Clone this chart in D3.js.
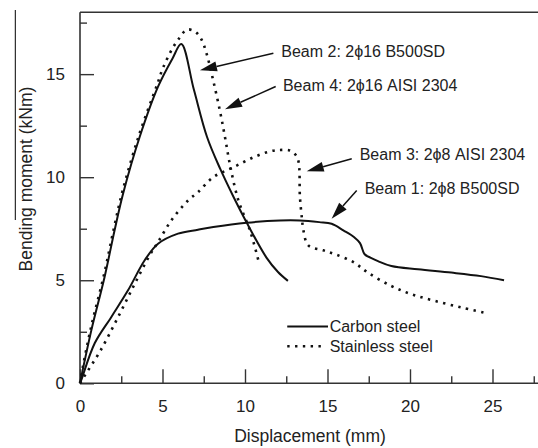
<!DOCTYPE html>
<html>
<head>
<meta charset="utf-8">
<script src="https://cdn.jsdelivr.net/npm/d3@7"></script>
<style>
  body { margin: 0; background: #fff; }
  text { font-family: "Liberation Sans", Arial, Helvetica, sans-serif; fill: #222; }
</style>
</head>
<body>
<div id="chart"></div>
<script>
// Dimensions
const width = 538, height = 448;

// Axis ticks
const xTicks = [0, 5, 10, 15, 20, 25];
const xMinorTicks = [2.5, 7.5, 12.5, 17.5, 22.5, 27.5];
const yTicks = [0, 5, 10, 15];
const yMinorTicks = [2.5, 7.5, 12.5, 17.5];

// Beam 1: 2ϕ8 B500SD (carbon)
const beam1X = [0, 0.08, 0.89, 1.9, 2.91, 3.92, 4.73, 5.94, 7.15, 8.08, 10.1, 12.12, 13.33, 14.5, 15.25, 15.96, 16.6, 16.97, 17.25, 17.6, 18.06, 18.87, 20.48, 22.5, 24.3, 25.7];
const beam1Y = [0, 0.16, 1.94, 3.22, 4.51, 5.97, 6.77, 7.26, 7.45, 7.58, 7.79, 7.9, 7.9, 7.82, 7.74, 7.42, 7.1, 6.8, 6.26, 6.1, 5.93, 5.69, 5.53, 5.37, 5.2, 5.0];

// Beam 2: 2ϕ16 B500SD (carbon)
const beam2X = [0, 0.08, 0.69, 1.49, 2.1, 2.61, 3.62, 4.73, 5.6, 6.14, 6.9, 7.7, 8.5, 9.3, 10.1, 11.3, 12.0, 12.6];
const beam2Y = [0, 0.32, 2.58, 5.16, 7.44, 9.2, 11.96, 14.39, 15.75, 16.46, 14.25, 11.95, 10.4, 9.05, 7.8, 6.1, 5.4, 4.97];

// Beam 3: 2ϕ8 AISI 2304 (stainless)
const beam3X = [0, 0.35, 1.25, 2.3, 3.3, 4.25, 4.73, 5.53, 6.55, 7.15, 8.08, 9.29, 10.5, 11.5, 12.12, 12.7, 13.0, 13.23, 13.33, 13.45, 13.54, 13.84, 14.75, 15.5, 16.57, 17.45, 18.87, 20.1, 21.5, 23.1, 24.5];
const beam3Y = [0, 0.45, 1.6, 3.2, 4.8, 6.25, 6.85, 7.9, 8.87, 9.27, 10.0, 10.48, 10.96, 11.25, 11.32, 11.3, 11.15, 10.8, 9.03, 8.0, 7.42, 6.69, 6.45, 6.25, 5.88, 5.37, 4.72, 4.32, 4.0, 3.68, 3.43];

// Beam 4: 2ϕ16 AISI 2304 (stainless)
const beam4X = [0, 0.08, 0.65, 1.45, 2.05, 2.57, 3.58, 4.68, 5.03, 5.64, 6.04, 6.3, 6.56, 7.0, 7.35, 7.68, 8.08, 8.48, 8.79, 9.09, 9.6, 10.3, 10.8];
const beam4Y = [0, 0.4, 2.65, 5.25, 7.5, 9.3, 12.05, 14.5, 15.3, 16.3, 16.77, 17.05, 17.17, 17.05, 16.7, 15.97, 14.67, 13.22, 11.93, 10.6, 8.87, 7.42, 6.0];

// Callouts (data coordinates)
const calloutLabels = ["Beam 2: 2\u03D516 B500SD", "Beam 4: 2\u03D516 AISI 2304", "Beam 3: 2\u03D58 AISI 2304", "Beam 1: 2\u03D58 B500SD"];
const calloutText = [[12.2, 16.09], [12.3, 14.48], [16.95, 11.09], [17.25, 9.46]];
const calloutTail = [[11.72, 16.01], [11.86, 14.4], [16.47, 10.89], [16.77, 9.35]];
const calloutTip = [[7.27, 15.19], [8.79, 13.3], [13.74, 10.29], [15.25, 7.98]];

// Legend
const legendLabels = ["Carbon steel", "Stainless steel"];
const legendY = [2.75, 1.8];

const svg = d3.select("#chart")
    .append("svg")
    .attr("width", width)
    .attr("height", height);

// Scales
const xScale = d3.scaleLinear().domain([0, 28]).range([80, 542]);
const yScale = d3.scaleLinear().domain([0, 18]).range([383.3, 12.3]);

const solidStyle = { width: 2, dash: null };
const dottedStyle = { width: 2.6, dash: "2.4,5.4" };

const series = [
    { xs: beam1X, ys: beam1Y, style: solidStyle },
    { xs: beam2X, ys: beam2Y, style: solidStyle },
    { xs: beam3X, ys: beam3Y, style: dottedStyle },
    { xs: beam4X, ys: beam4Y, style: dottedStyle }
];

// Stray vertical rule at the left edge of the scan
svg.append("line")
    .attr("x1", 15.3).attr("x2", 15.3)
    .attr("y1", 10).attr("y2", 220)
    .attr("stroke", "#000")
    .attr("stroke-width", 1);

// Axes (ticks pointing inward)
function styleAxis(g) {
    g.attr("font-family", null).attr("font-size", null);
    g.select(".domain").remove();
    g.selectAll("line").attr("stroke", "#333").attr("stroke-width", 1.4);
    g.selectAll("text").attr("font-size", "17px").style("fill", "#222");
}

svg.append("g")
    .attr("transform", `translate(0,${yScale(0)})`)
    .call(d3.axisBottom(xScale).tickValues(xTicks).tickSize(-14).tickPadding(16.7))
    .call(styleAxis);

svg.append("g")
    .attr("transform", `translate(0,${yScale(0)})`)
    .call(d3.axisBottom(xScale).tickValues(xMinorTicks).tickSize(-7).tickFormat(""))
    .call(styleAxis);

svg.append("g")
    .attr("transform", `translate(${xScale(0)},0)`)
    .call(d3.axisLeft(yScale).tickValues(yTicks).tickSize(-14).tickPadding(15))
    .call(styleAxis);

svg.append("g")
    .attr("transform", `translate(${xScale(0)},0)`)
    .call(d3.axisLeft(yScale).tickValues(yMinorTicks).tickSize(-7).tickFormat(""))
    .call(styleAxis);

// Frame: left, bottom, top
const frame = svg.append("g").attr("stroke", "#333").attr("stroke-width", 1.6).attr("fill", "none");
frame.append("line").attr("x1", xScale(0)).attr("x2", xScale(0)).attr("y1", yScale(0)).attr("y2", yScale(18));
frame.append("line").attr("x1", xScale(0)).attr("x2", width).attr("y1", yScale(0)).attr("y2", yScale(0));
frame.append("line").attr("x1", xScale(0)).attr("x2", width).attr("y1", yScale(18)).attr("y2", yScale(18));

// Axis labels
svg.append("text")
    .attr("text-anchor", "middle")
    .attr("x", 310)
    .attr("y", 442)
    .attr("font-size", "17.5px")
    .text("Displacement (mm)");

svg.append("text")
    .attr("text-anchor", "middle")
    .attr("transform", "translate(31.5,179) rotate(-90)")
    .attr("font-size", "17.5px")
    .text("Bending moment (kNm)");

// Curves
const line = d3.line()
    .x(d => xScale(d[0]))
    .y(d => yScale(d[1]))
    .curve(d3.curveCatmullRom.alpha(0.5));

series.forEach(s => {
    svg.append("path")
        .datum(s.xs.map((x, i) => [x, s.ys[i]]))
        .attr("d", line)
        .attr("fill", "none")
        .attr("stroke", "#111")
        .attr("stroke-width", s.style.width)
        .attr("stroke-dasharray", s.style.dash)
        .attr("stroke-linejoin", "round");
});

// Callouts with arrows
const headLen = 17, headHalf = 5;
calloutLabels.forEach((label, i) => {
    const sx = xScale(calloutTail[i][0]), sy = yScale(calloutTail[i][1]);
    const tx = xScale(calloutTip[i][0]), ty = yScale(calloutTip[i][1]);
    const len = Math.hypot(tx - sx, ty - sy);
    const ux = (tx - sx) / len, uy = (ty - sy) / len;
    const bx = tx - ux * headLen, by = ty - uy * headLen;

    svg.append("line")
        .attr("x1", sx).attr("y1", sy)
        .attr("x2", bx).attr("y2", by)
        .attr("stroke", "#111")
        .attr("stroke-width", 1.5);

    svg.append("polygon")
        .attr("points", [[tx, ty], [bx - uy * headHalf, by + ux * headHalf], [bx + uy * headHalf, by - ux * headHalf]].join(" "))
        .attr("fill", "#111");

    svg.append("text")
        .attr("x", xScale(calloutText[i][0]))
        .attr("y", yScale(calloutText[i][1]))
        .attr("dy", "0.36em")
        .attr("font-size", "16px")
        .text(label);
});

// Legend
const legendStyles = [solidStyle, dottedStyle];
legendLabels.forEach((label, i) => {
    svg.append("line")
        .attr("x1", xScale(12.56)).attr("x2", xScale(i === 0 ? 15.03 : 14.6))
        .attr("y1", yScale(legendY[i])).attr("y2", yScale(legendY[i]))
        .attr("stroke", "#111")
        .attr("stroke-width", legendStyles[i].width)
        .attr("stroke-dasharray", legendStyles[i].dash);

    svg.append("text")
        .attr("x", xScale(15.13))
        .attr("y", yScale(legendY[i]))
        .attr("dy", "0.36em")
        .attr("font-size", "16px")
        .text(label);
});
</script>
</body>
</html>
